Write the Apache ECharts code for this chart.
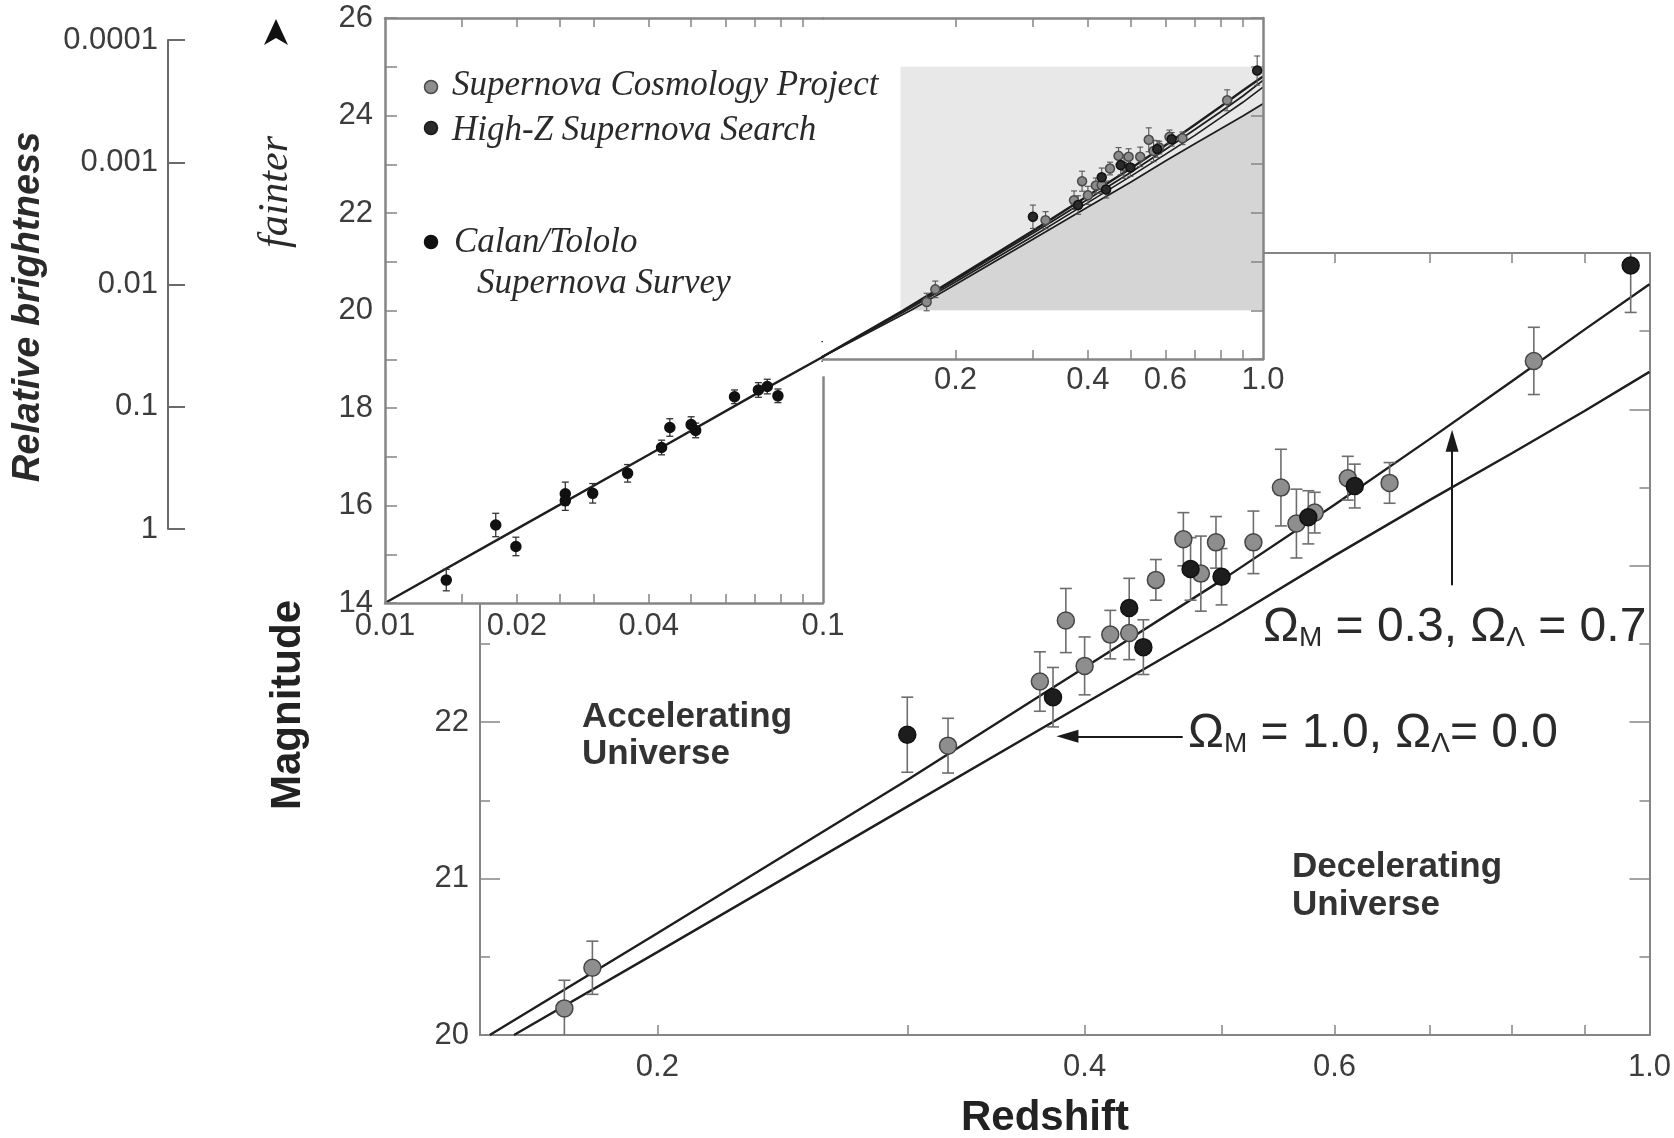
<!DOCTYPE html>
<html>
<head>
<meta charset="utf-8">
<title>Hubble diagram of Type Ia supernovae</title>
<script src="https://cdn.jsdelivr.net/npm/echarts@6/dist/echarts.min.js"></script>
<style>
  html, body { margin: 0; padding: 0; background: #ffffff; }
  #chart { width: 1674px; height: 1138px; }
</style>
</head>
<body>
<div id="chart"></div>
<script>
// ---- Data: [redshift z, magnitude m, 1-sigma error in mag] ----
const scpPoints = [
  [0.172, 20.17, 0.18], [0.180, 20.43, 0.17], [0.3205, 21.85, 0.175],
  [0.372, 22.26, 0.19], [0.388, 22.65, 0.205], [0.400, 22.36, 0.185],
  [0.417, 22.56, 0.155], [0.430, 22.57, 0.17], [0.449, 22.91, 0.13],
  [0.4695, 23.17, 0.17], [0.483, 22.95, 0.24], [0.495, 23.15, 0.165],
  [0.526, 23.15, 0.20], [0.550, 23.50, 0.245], [0.564, 23.27, 0.22],
  [0.581, 23.34, 0.13], [0.613, 23.56, 0.14], [0.656, 23.53, 0.13],
  [0.829, 24.31, 0.215]
];
const highZPoints = [
  [0.300, 21.92, 0.24], [0.380, 22.16, 0.19], [0.430, 22.73, 0.19],
  [0.440, 22.48, 0.175], [0.475, 22.98, 0.20], [0.4995, 22.93, 0.18],
  [0.575, 23.31, 0.17], [0.620, 23.51, 0.14], [0.970, 24.92, 0.30]
];
const calanTololoPoints = [
  [0.0138, 14.47, 0.22], [0.0179, 15.60, 0.24], [0.0199, 15.16, 0.19],
  [0.0258, 16.24, 0.24], [0.0258, 16.10, 0.20], [0.0298, 16.25, 0.20],
  [0.0358, 16.66, 0.18], [0.0428, 17.19, 0.15], [0.0447, 17.60, 0.18],
  [0.0500, 17.66, 0.16], [0.0512, 17.54, 0.15], [0.0628, 18.23, 0.14],
  [0.0712, 18.37, 0.15], [0.0746, 18.44, 0.15], [0.0789, 18.25, 0.14],
  [0.1010, 19.16, 0.20]
];

// ---- Model curves: [z, m] ----
// Omega_M = 0.3, Omega_Lambda = 0.7
const modelAccelerating = [
  [0.1524, 20.00], [0.2, 20.65], [0.3, 21.63], [0.4, 22.35], [0.5, 22.91],
  [0.6, 23.39], [0.7, 23.81], [0.8, 24.18], [0.9, 24.51], [1.0, 24.80]
];
// Omega_M = 1.0, Omega_Lambda = 0.0
const modelDecelerating = [
  [0.1585, 20.00], [0.2, 20.53], [0.3, 21.46], [0.4, 22.12], [0.5, 22.63],
  [0.6, 23.065], [0.7, 23.42], [0.8, 23.72], [0.9, 23.99], [1.0, 24.24]
];
// intermediate cosmologies shown in the inset
const modelIntermediateA = [
  [0.153, 20.00], [0.2, 20.62], [0.3, 21.58], [0.4, 22.28], [0.5, 22.83],
  [0.6, 23.30], [0.7, 23.71], [0.8, 24.07], [0.9, 24.40], [1.0, 24.72]
];
const modelIntermediateB = [
  [0.155, 20.00], [0.2, 20.58], [0.3, 21.52], [0.4, 22.21], [0.5, 22.75],
  [0.6, 23.20], [0.7, 23.59], [0.8, 23.95], [0.9, 24.27], [1.0, 24.58]
];
// nearby part shared by all models
const nearbyHubbleLine = [
  [0.01, 14.00], [0.02, 15.52], [0.04, 17.04], [0.07, 18.28], [0.1, 19.05]
];

// ---- Axis ranges and ticks ----
const mainZRange = [0.15, 1.0];
const mainMagRange = [20, 25];
const mainZLabels = [0.2, 0.4, 0.6, 1.0];
const mainZTicks = [0.2, 0.3, 0.4, 0.5, 0.6, 0.7, 0.8, 0.9];
const insetLowZRange = [0.01, 0.1];
const insetHighZRange = [0.1, 1.0];
const insetLowZLabels = [0.01, 0.02, 0.04, 0.1];
const insetLowZTicks = [0.015, 0.02, 0.025, 0.03, 0.04, 0.05, 0.06, 0.07, 0.08, 0.09];
const insetHighZLabels = [0.2, 0.4, 0.6, 1.0];
const insetHighZTicks = [0.2, 0.3, 0.4, 0.5, 0.6, 0.7, 0.8, 0.9];
const insetMagRange = [14, 26];
const insetUpperMagRange = [19, 26];
const brightnessRange = [0.0001, 1];

// ---- Styling ----
const SANS = '"Liberation Sans", Arial, Helvetica, sans-serif';
const SERIF = '"Liberation Serif", "Times New Roman", serif';
const LABEL_COLOR = '#3c3c3c';
const TEXT_COLOR = '#2a2a2a';
const FRAME = '#858585';
const GRAY_FILL = '#8e8e8e';
const BLACK_FILL = '#1d1d1d';

const chart = echarts.init(document.getElementById('chart'));

const withOne = v => (v === 1 ? '1.0' : String(v));
const tickLabel = { fontFamily: SANS, fontSize: 31, color: LABEL_COLOR };

function errorBars(data, xi, yi, capHalf, color, width, z) {
  return {
    type: 'custom', xAxisIndex: xi, yAxisIndex: yi, data: data, clip: true, z: z, silent: true,
    encode: { x: 0, y: 1 },
    renderItem: function (params, api) {
      const x = api.value(0), y = api.value(1), e = api.value(2);
      const hi = api.coord([x, y + e]);
      const lo = api.coord([x, y - e]);
      const style = { stroke: color, lineWidth: width };
      return {
        type: 'group',
        children: [
          { type: 'line', shape: { x1: hi[0], y1: hi[1], x2: lo[0], y2: lo[1] }, style: style },
          { type: 'line', shape: { x1: hi[0] - capHalf, y1: hi[1], x2: hi[0] + capHalf, y2: hi[1] }, style: style },
          { type: 'line', shape: { x1: lo[0] - capHalf, y1: lo[1], x2: lo[0] + capHalf, y2: lo[1] }, style: style }
        ]
      };
    }
  };
}

function points(name, data, xi, yi, size, fill, border, z) {
  return {
    type: 'scatter', name: name, xAxisIndex: xi, yAxisIndex: yi, z: z, silent: true,
    data: data.map(d => [d[0], d[1]]), symbol: 'circle', symbolSize: size,
    itemStyle: { color: fill, borderColor: border, borderWidth: 1.5, opacity: 1 }
  };
}

function modelLine(data, xi, yi, width, z) {
  return {
    type: 'line', xAxisIndex: xi, yAxisIndex: yi, data: data, showSymbol: false, symbol: 'none',
    clip: true, z: z, silent: true, lineStyle: { color: '#1e1e1e', width: width }
  };
}

const frameAxis = (extra) => Object.assign({
  axisLine: { show: true, lineStyle: { color: FRAME, width: 2.5 } },
  axisTick: { show: true, inside: true, length: 10, lineStyle: { color: FRAME, width: 1.5 } },
  splitLine: { show: false },
  axisLabel: { show: false }
}, extra);

const textStyle = (text, font, fill, align) => ({
  text: text, font: font, fill: fill,
  align: align, verticalAlign: 'middle', textAlign: align, textVerticalAlign: 'middle'
});

const omegaRich = {
  o: { fontFamily: SANS, fontSize: 48, lineHeight: 50, fill: '#2a2a2a', verticalAlign: 'bottom' },
  t: { fontFamily: SANS, fontSize: 48, lineHeight: 50, fill: '#2a2a2a', verticalAlign: 'bottom' },
  s: { fontFamily: SANS, fontSize: 28, lineHeight: 4, fill: '#2a2a2a', verticalAlign: 'bottom' }
};

const option = {
  animation: false,
  backgroundColor: '#ffffff',
  grid: [
    // main panel
    { left: 480, top: 253, width: 1171, height: 782, show: false, z: 0 },
    // inset, nearby part (0.01 - 0.1)
    { left: 385, top: 18, width: 438, height: 585, show: true, backgroundColor: '#ffffff', borderWidth: 0, z: 10 },
    // inset, distant part (0.1 - 1.0)
    { left: 823, top: 18, width: 440, height: 341, show: true, backgroundColor: '#ffffff', borderWidth: 0, z: 10 },
    // relative brightness scale
    { left: 168, top: 40, width: 10, height: 489, show: false }
  ],
  xAxis: [
    // 0: main bottom
    frameAxis({
      type: 'log', gridIndex: 0, position: 'bottom', min: mainZRange[0], max: mainZRange[1], z: 1,
      axisLine: { show: true, lineStyle: { color: FRAME, width: 2 } },
      axisTick: { show: true, inside: true, length: 10, customValues: mainZTicks, lineStyle: { color: FRAME, width: 1.5 } },
      axisLabel: Object.assign({ show: true, margin: 17, customValues: mainZLabels, formatter: withOne }, tickLabel)
    }),
    // 1: main top
    frameAxis({
      type: 'log', gridIndex: 0, position: 'top', min: mainZRange[0], max: mainZRange[1], z: 1,
      axisLine: { show: true, lineStyle: { color: FRAME, width: 2 } },
      axisTick: { show: true, inside: true, length: 10, customValues: mainZTicks, lineStyle: { color: FRAME, width: 1.5 } }
    }),
    // 2: inset nearby bottom
    frameAxis({
      type: 'log', gridIndex: 1, position: 'bottom', min: insetLowZRange[0], max: insetLowZRange[1], z: 13,
      axisTick: { show: true, inside: true, length: 9, customValues: insetLowZTicks, lineStyle: { color: FRAME, width: 1.5 } },
      axisLabel: Object.assign({ show: true, margin: 8, customValues: insetLowZLabels, formatter: v => String(v) }, tickLabel)
    }),
    // 3: inset nearby top
    frameAxis({
      type: 'log', gridIndex: 1, position: 'top', min: insetLowZRange[0], max: insetLowZRange[1], z: 13,
      axisTick: { show: true, inside: true, length: 9, customValues: insetLowZTicks, lineStyle: { color: FRAME, width: 1.5 } }
    }),
    // 4: inset distant bottom
    frameAxis({
      type: 'log', gridIndex: 2, position: 'bottom', min: insetHighZRange[0], max: insetHighZRange[1], z: 13,
      axisTick: { show: true, inside: true, length: 9, customValues: insetHighZTicks, lineStyle: { color: FRAME, width: 1.5 } },
      axisLabel: Object.assign({ show: true, margin: 6, customValues: insetHighZLabels, formatter: withOne }, tickLabel)
    }),
    // 5: inset distant top
    frameAxis({
      type: 'log', gridIndex: 2, position: 'top', min: insetHighZRange[0], max: insetHighZRange[1], z: 13,
      axisTick: { show: true, inside: true, length: 9, customValues: insetHighZTicks, lineStyle: { color: FRAME, width: 1.5 } }
    }),
    // 6: brightness grid (hidden)
    { type: 'value', gridIndex: 3, show: false, min: 0, max: 1 }
  ],
  yAxis: [
    // 0: main left
    frameAxis({
      type: 'value', gridIndex: 0, position: 'left', min: mainMagRange[0], max: mainMagRange[1], interval: 1, z: 1,
      axisLine: { show: true, lineStyle: { color: FRAME, width: 2 } },
      axisTick: { show: true, inside: true, length: 20, lineStyle: { color: FRAME, width: 1.5 } },
      minorTick: { show: true, splitNumber: 2, length: 10, lineStyle: { color: FRAME, width: 1.5 } },
      axisLabel: Object.assign({ show: true, margin: 11, formatter: v => String(v) }, tickLabel)
    }),
    // 1: main right
    frameAxis({
      type: 'value', gridIndex: 0, position: 'right', min: mainMagRange[0], max: mainMagRange[1], interval: 1, z: 1,
      axisLine: { show: true, lineStyle: { color: FRAME, width: 2 } },
      axisTick: { show: true, inside: true, length: 20, lineStyle: { color: FRAME, width: 1.5 } },
      minorTick: { show: true, splitNumber: 2, length: 10, lineStyle: { color: FRAME, width: 1.5 } }
    }),
    // 2: inset left
    frameAxis({
      type: 'value', gridIndex: 1, position: 'left', min: insetMagRange[0], max: insetMagRange[1], interval: 1, z: 13,
      axisTick: { show: true, inside: true, length: 12, lineStyle: { color: FRAME, width: 1.5 } },
      axisLabel: Object.assign({ show: true, margin: 12, formatter: v => (v % 2 === 0 ? String(v) : '') }, tickLabel)
    }),
    // 3: inset distant right
    frameAxis({
      type: 'value', gridIndex: 2, position: 'right', min: insetUpperMagRange[0], max: insetUpperMagRange[1], interval: 1, z: 13,
      axisTick: { show: true, inside: true, length: 12, lineStyle: { color: FRAME, width: 1.5 } }
    }),
    // 4: relative brightness (log, brighter at bottom)
    {
      type: 'log', gridIndex: 3, position: 'left', min: brightnessRange[0], max: brightnessRange[1], inverse: true,
      axisLine: { show: true, lineStyle: { color: '#6a6a6a', width: 2 } },
      axisTick: { show: true, inside: true, length: 17, lineStyle: { color: '#6a6a6a', width: 2 } },
      splitLine: { show: false },
      axisLabel: Object.assign({ show: true, margin: 10, formatter: v => (v >= 1 ? '1' : String(Number(v.toPrecision(1)))) }, tickLabel)
    }
  ],
  series: [
    // ---- main panel ----
    Object.assign(modelLine(modelAccelerating, 0, 0, 2.4, 3), {
      markLine: {
        silent: true, symbol: ['none', 'triangle'], symbolSize: [13, 22], z: 6,
        label: { show: false },
        lineStyle: { color: '#1a1a1a', width: 2, type: 'solid' },
        data: [
          [{ coord: [0.726, 22.875] }, { coord: [0.726, 23.80] }],
          [{ coord: [0.469, 21.91] }, { coord: [0.389, 21.91] }]
        ]
      }
    }),
    modelLine(modelDecelerating, 0, 0, 2.4, 3),
    errorBars(scpPoints, 0, 0, 6, '#6e6e6e', 1.6, 4),
    errorBars(highZPoints, 0, 0, 6, '#6e6e6e', 1.6, 4),
    points('Supernova Cosmology Project', scpPoints, 0, 0, 17, GRAY_FILL, '#454545', 5),
    points('High-Z Supernova Search', highZPoints, 0, 0, 17, BLACK_FILL, '#111111', 5),

    // ---- inset: shaded window of the main panel ----
    {
      type: 'custom', xAxisIndex: 4, yAxisIndex: 3, data: [[0.5, 22]], clip: true, z: 11, silent: true,
      renderItem: function (params, api) {
        const box = [
          [mainZRange[0], mainMagRange[1]], [mainZRange[1], mainMagRange[1]],
          [mainZRange[1], mainMagRange[0]], [mainZRange[0], mainMagRange[0]]
        ].map(p => api.coord(p));
        const under = modelDecelerating.map(p => api.coord(p))
          .concat([api.coord([mainZRange[1], mainMagRange[0]])]);
        return {
          type: 'group',
          children: [
            { type: 'polygon', shape: { points: box }, style: { fill: '#e8e8e8' } },
            { type: 'polygon', shape: { points: under }, style: { fill: '#d5d5d5' } }
          ]
        };
      }
    },

    // ---- inset: model lines in both parts ----
    modelLine(nearbyHubbleLine.concat(modelAccelerating), 2, 2, 2.4, 12),
    modelLine(nearbyHubbleLine.concat(modelAccelerating), 4, 3, 2.4, 12),
    modelLine(nearbyHubbleLine.concat(modelIntermediateA), 4, 3, 1.8, 12),
    modelLine(nearbyHubbleLine.concat(modelIntermediateB), 4, 3, 1.6, 12),
    modelLine(nearbyHubbleLine.concat(modelDecelerating), 4, 3, 1.8, 12),

    // ---- inset: nearby supernovae ----
    errorBars(calanTololoPoints, 2, 2, 3.5, '#333333', 1.3, 13),
    Object.assign(points('Calan/Tololo Supernova Survey', calanTololoPoints, 2, 2, 10, '#111111', '#111111', 14), {
      markLine: {
        silent: true, symbol: 'none', z: 13, label: { show: false },
        lineStyle: { color: FRAME, width: 2.5, type: 'solid' },
        data: [[{ coord: [insetLowZRange[1], insetMagRange[0]] }, { coord: [insetLowZRange[1], 18.65] }]]
      }
    }),

    // ---- inset: distant supernovae ----
    errorBars(scpPoints, 4, 3, 3, '#555555', 1.1, 13),
    errorBars(highZPoints, 4, 3, 3, '#555555', 1.1, 13),
    points('Supernova Cosmology Project', scpPoints, 4, 3, 9, '#8a8a8a', '#4a4a4a', 14),
    points('High-Z Supernova Search', highZPoints, 4, 3, 9, '#2a2a2a', '#111111', 14)
  ],
  graphic: [
    // inset legend
    { type: 'circle', z: 100, shape: { cx: 431, cy: 87, r: 6.5 }, style: { fill: GRAY_FILL, stroke: '#4a4a4a', lineWidth: 1.5 } },
    { type: 'text', z: 100, x: 452, y: 86, style: textStyle('Supernova Cosmology Project', 'italic 35px ' + SERIF, TEXT_COLOR, 'left') },
    { type: 'circle', z: 100, shape: { cx: 431, cy: 128, r: 6.5 }, style: { fill: '#2a2a2a', stroke: '#1a1a1a', lineWidth: 1.5 } },
    { type: 'text', z: 100, x: 452, y: 131, style: textStyle('High-Z Supernova Search', 'italic 35px ' + SERIF, TEXT_COLOR, 'left') },
    { type: 'circle', z: 100, shape: { cx: 431, cy: 242, r: 6.5 }, style: { fill: '#111111', stroke: '#111111', lineWidth: 1.5 } },
    { type: 'text', z: 100, x: 454, y: 243, style: textStyle('Calan/Tololo', 'italic 35px ' + SERIF, TEXT_COLOR, 'left') },
    { type: 'text', z: 100, x: 477, y: 284, style: textStyle('Supernova Survey', 'italic 35px ' + SERIF, TEXT_COLOR, 'left') },

    // axis titles
    { type: 'text', z: 100, x: 29, y: 307, rotation: Math.PI / 2, style: textStyle('Relative brightness', 'italic bold 38px ' + SANS, TEXT_COLOR, 'center') },
    { type: 'text', z: 100, x: 276, y: 192, rotation: Math.PI / 2, style: textStyle('fainter', 'italic 42px ' + SERIF, TEXT_COLOR, 'center') },
    { type: 'polygon', z: 100, shape: { points: [[276, 19], [288, 45], [276, 38], [264, 45]] }, style: { fill: '#111111' } },
    { type: 'text', z: 100, x: 288, y: 705, rotation: Math.PI / 2, style: textStyle('Magnitude', 'bold 42px ' + SANS, '#222222', 'center') },
    { type: 'text', z: 100, x: 1045, y: 1118, style: textStyle('Redshift', 'bold 42px ' + SANS, '#222222', 'center') },

    // region annotations
    { type: 'text', z: 100, x: 582, y: 717, style: textStyle('Accelerating', 'bold 35px ' + SANS, '#333333', 'left') },
    { type: 'text', z: 100, x: 582, y: 754, style: textStyle('Universe', 'bold 35px ' + SANS, '#333333', 'left') },
    { type: 'text', z: 100, x: 1292, y: 867, style: textStyle('Decelerating', 'bold 35px ' + SANS, '#333333', 'left') },
    { type: 'text', z: 100, x: 1292, y: 905, style: textStyle('Universe', 'bold 35px ' + SANS, '#333333', 'left') },

    // model labels
    {
      type: 'text', z: 100, x: 1263, y: 627,
      style: Object.assign(textStyle('{o|Ω}{s|M}{t| = 0.3, }{o|Ω}{s|Λ}{t| = 0.7}', null, '#2a2a2a', 'left'), { font: undefined, rich: omegaRich })
    },
    {
      type: 'text', z: 100, x: 1188, y: 733,
      style: Object.assign(textStyle('{o|Ω}{s|M}{t| = 1.0, }{o|Ω}{s|Λ}{t|= 0.0}', null, '#2a2a2a', 'left'), { font: undefined, rich: omegaRich })
    }
  ]
};

chart.setOption(option);
</script>
</body>
</html>
